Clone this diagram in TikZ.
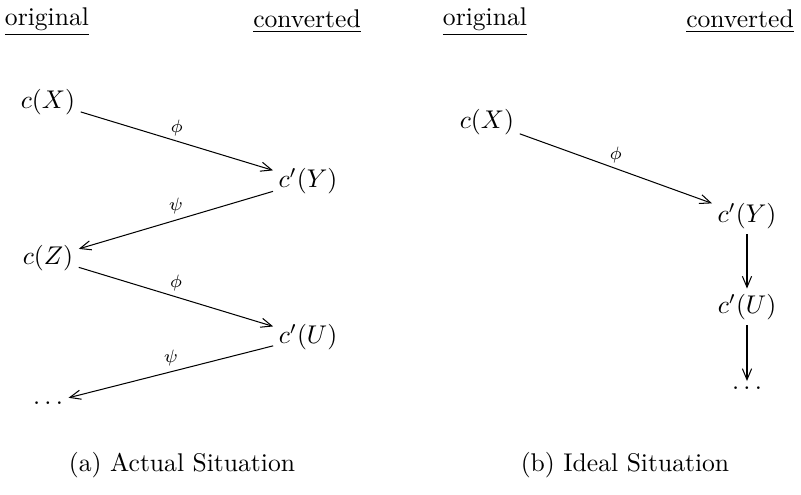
\documentclass[tikz,border=0pt]{standalone}
\usetikzlibrary{arrows.meta}
\begin{document}
\begin{tikzpicture}[x=0.3906pt,y=-0.3906pt,
  obj/.style={inner sep=2pt},
  arr/.style={-{Straight Barb[length=4.3pt,width=3.6pt]},line width=0.4pt},
  lbl/.style={font=\scriptsize,above,midway,inner sep=2pt}]
\useasboundingbox (0,0) rectangle (801,495);
% left panel
\node (oa) at (47,22) {\underline{original}};
\node (ca) at (307,21) {\underline{converted}};
\node[obj] (x1) at (48,102) {$c(X)$};
\node[obj] (y1) at (308,181) {$c'(Y)$};
\node[obj] (z1) at (48,258) {$c(Z)$};
\node[obj] (u1) at (308,337) {$c'(U)$};
\node[obj] (d1) at (48,403) {$\ldots$};
\draw[arr] (x1) -- node[lbl] {$\phi$} (y1);
\draw[arr] (y1) -- node[lbl] {$\psi$} (z1);
\draw[arr] (z1) -- node[lbl] {$\phi$} (u1);
\draw[arr] (u1) -- node[lbl] {$\psi$} (d1);
\node (capa) at (182,465) {(a) Actual Situation};
% right panel
\node (ob) at (485,22) {\underline{original}};
\node (cb) at (740,21) {\underline{converted}};
\node[obj] (x2) at (487,122) {$c(X)$};
\node[obj] (y2) at (747,216) {$c'(Y)$};
\node[obj] (u2) at (747,307) {$c'(U)$};
\node[obj] (d2) at (747,388) {$\ldots$};
\draw[arr] (x2) -- node[lbl] {$\phi$} (y2);
\draw[arr] (y2) -- (u2);
\draw[arr] (u2) -- (d2);
\node (capb) at (625,465) {(b) Ideal Situation};
\end{tikzpicture}
\end{document}
